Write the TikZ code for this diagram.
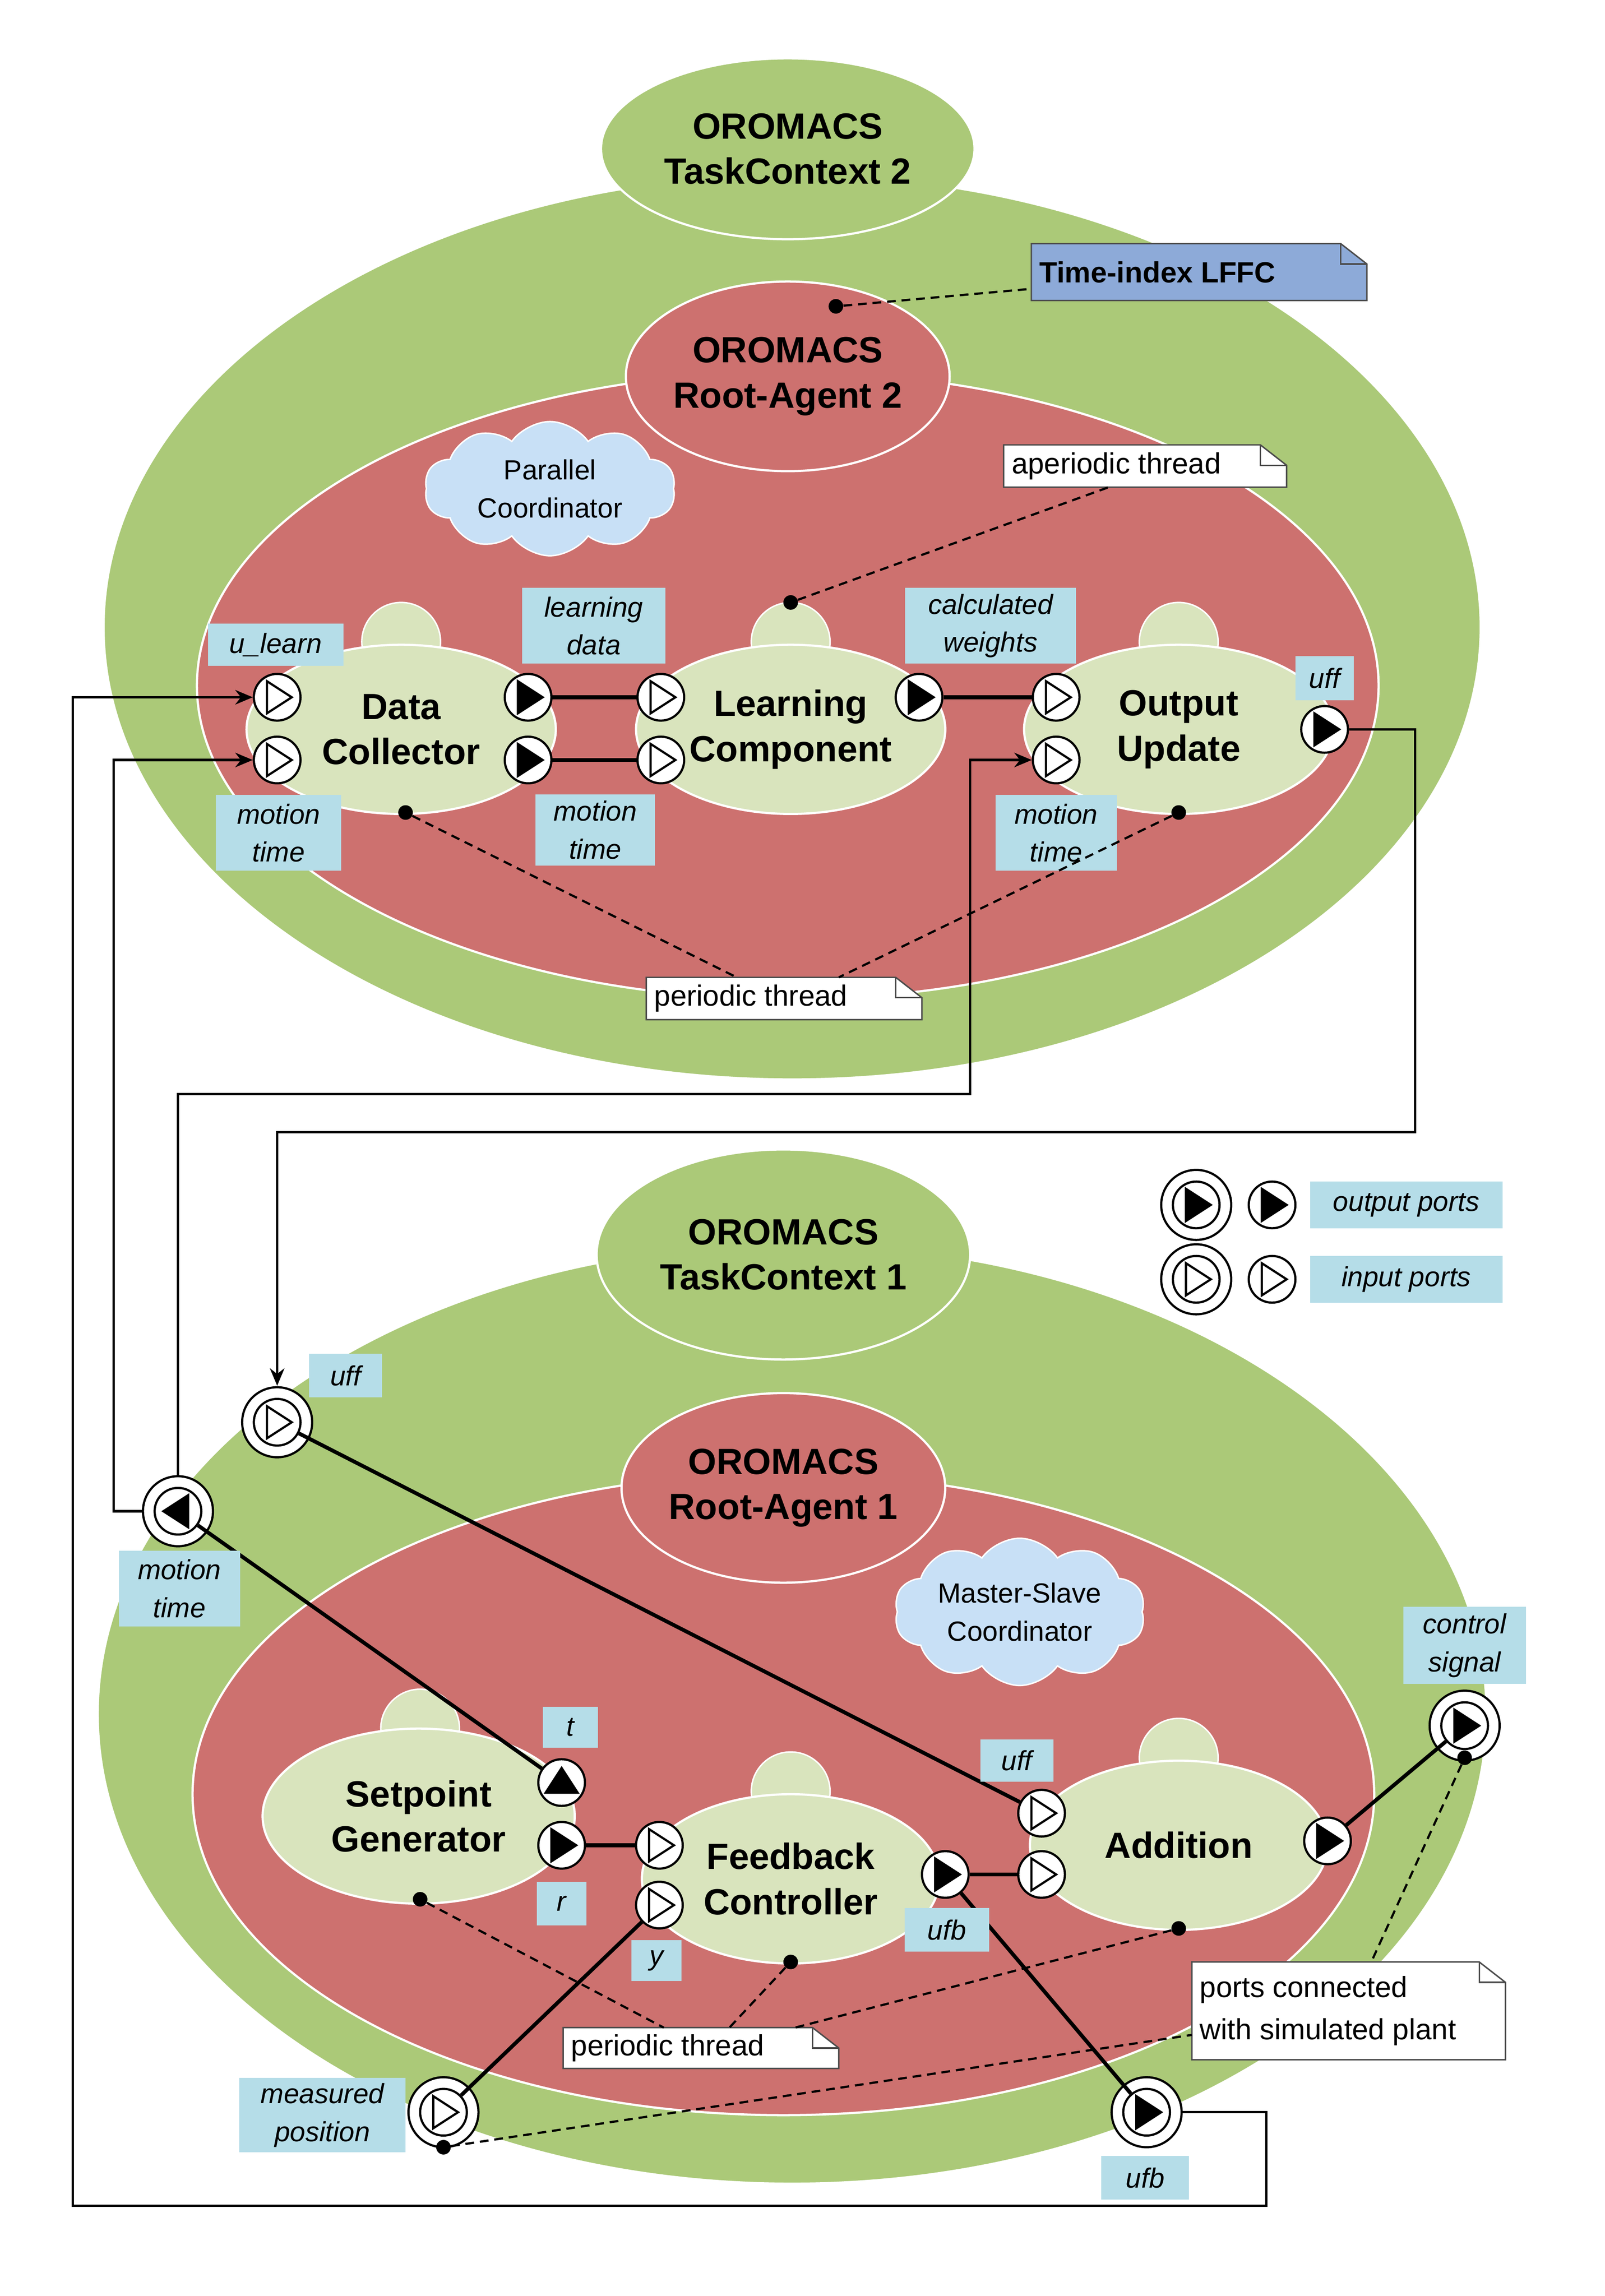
\documentclass[tikz,border=0pt]{standalone}
\usepackage{fontspec}
\setmainfont{Liberation Sans}
\usetikzlibrary{shapes.geometric,shapes.symbols,arrows.meta,calc}
\definecolor{gr}{RGB}{171,201,120}
\definecolor{rd}{RGB}{205,113,111}
\definecolor{lg}{RGB}{217,228,189}
\definecolor{lb}{RGB}{181,221,232}
\definecolor{nb}{RGB}{141,170,216}
\definecolor{cl}{RGB}{200,224,246}
\tikzset{
 ell/.style={ellipse,draw=white,line width=1.5pt,inner sep=0},
 big/.style={font=\fontsize{25}{31}\selectfont\bfseries,align=center},
 port/.style={circle,draw,line width=1.5pt,fill=white,minimum size=32pt,inner sep=0},
 lbl/.style={fill=lb,font=\fontsize{19}{26}\selectfont\itshape,align=center,inner sep=2pt},
 wire/.style={line width=1.6pt},
 thick wire/.style={line width=2.6pt},
 dsh/.style={line width=1.5pt,dash pattern=on 6pt off 4pt},
 dot/.style={circle,fill=black,minimum size=10pt,inner sep=0},
 cloudy/.style={cloud,cloud puffs=10,cloud puff arc=110,aspect=1.9,fill=cl,draw=white,line width=1pt,align=center,font=\fontsize{19}{26}\selectfont,inner sep=-2pt,minimum width=172,minimum height=92}
}
\newcommand\sport[5]{\node[port] (#1) at (#2,#3) {};
 \filldraw[fill=#4,draw=black,line width=1.5pt,rotate around={#5:(#2,#3)}] (#2+10,#3) -- (#2-7,#3-11) -- (#2-7,#3+11) -- cycle;}
\newcommand\dport[5]{\draw[line width=1.5pt,fill=white] (#2,#3) circle (24pt);\sport{#1}{#2}{#3}{#4}{#5}}
\newcommand\mynote[7]{\filldraw[fill=#6,draw=black!70,line width=1pt] (#2,#3) -- (#4-18,#3) -- (#4,#3+14) -- (#4,#5) -- (#2,#5) -- cycle;
 \draw[black!70,line width=1pt] (#4-18,#3) -- (#4-18,#3+14) -- (#4,#3+14);
 \node[font=\fontsize{20}{29}\selectfont,align=left,anchor=west] (#1) at (#2+2,{(#3+#5)/2}) {#7};}
\begin{document}
\begin{tikzpicture}[x=1pt,y=-1pt]
\useasboundingbox (0,0) rectangle (1100,1574);
\fill[white] (0,0) rectangle (1100,1574);
% ---------- TaskContext 2
\node[ell,fill=gr,minimum width=944,minimum height=620] (tc2) at (543,430) {};
\node[ell,fill=gr,minimum width=256,minimum height=124,big] (tc2h) at (540,102) {OROMACS\\TaskContext 2};
\node[ell,fill=rd,minimum width=810,minimum height=430] (ra2) at (540,470) {};
\node[ell,fill=rd,minimum width=200,minimum height=130,big] (ra2h) at (540,258) {OROMACS\\Root-Agent 2};
\node[cloudy] (pc) at (377,335) {Parallel\\Coordinator};
\foreach \n/\x/\t in {dc/275/Data\\Collector,lc/542/Learning\\Component,ou/808/Output\\Update}{
 \node[circle,draw=white,line width=1pt,fill=lg,minimum size=54] (\n c) at (\x,440) {};
 \node[ell,fill=lg,minimum width=212,minimum height=116,big] (\n) at (\x,500) {\t};
}
\sport{dci1}{190}{478}{white}{0}
\sport{dci2}{190}{521}{white}{0}
\sport{dco1}{362}{478}{black}{0}
\sport{dco2}{362}{521}{black}{0}
\sport{lci1}{453}{478}{white}{0}
\sport{lci2}{453}{521}{white}{0}
\sport{lco}{630}{478}{black}{0}
\sport{oui1}{724}{478}{white}{0}
\sport{oui2}{724}{521}{white}{0}
\sport{ouo}{908}{500}{black}{0}
\draw[thick wire] (dco1.east) -- (lci1.west);
\draw[thick wire] (dco2.east) -- (lci2.west);
\draw[thick wire] (lco.east) -- (oui1.west);
\node[lbl,minimum width=93,minimum height=29] (l1) at (189,442) {u\_learn};
\node[lbl,minimum width=86,minimum height=52] (l2) at (191,571) {motion\\time};
\node[lbl,minimum width=98,minimum height=52] (l3) at (407,429) {learning\\data};
\node[lbl,minimum width=82,minimum height=49] (l4) at (408,569) {motion\\time};
\node[lbl,minimum width=117,minimum height=52] (l5) at (679,429) {calculated\\weights};
\node[lbl,minimum width=83,minimum height=52] (l6) at (724,571) {motion\\time};
\node[lbl,minimum width=40,minimum height=30] (l7) at (908,465) {uff};
% notes TC2
\mynote{n1}{707}{167}{937}{206}{nb}{\bfseries Time-index LFFC}
\node[dot] (d1) at (573,210) {};
\draw[dsh] (d1) -- (707,198);
\mynote{n2}{688}{305}{882}{334}{white}{aperiodic thread}
\node[dot] (d2) at (542,413) {};
\draw[dsh] (d2) -- (760,334);
\mynote{n3}{443}{670}{632}{699}{white}{periodic thread}
\node[dot] (d3) at (278,557) {};
\node[dot] (d4) at (808,557) {};
\draw[dsh] (d3) -- (505,670);
\draw[dsh] (d4) -- (575,670);
% ---------- legend
\dport{lg1}{820}{826}{black}{0}
\sport{lg2}{872}{826}{black}{0}
\dport{lg3}{820}{877}{white}{0}
\sport{lg4}{872}{877}{white}{0}
\node[lbl,minimum width=132,minimum height=32] (lo) at (964,826) {output ports};
\node[lbl,minimum width=132,minimum height=32] (li) at (964,877) {input ports};
% ---------- TaskContext 1
\node[ell,fill=gr,minimum width=952,minimum height=644] (tc1) at (543,1175) {};
\node[ell,fill=gr,minimum width=256,minimum height=144,big] (tc1h) at (537,860) {OROMACS\\TaskContext 1};
\node[ell,fill=rd,minimum width=810,minimum height=440] (ra1) at (537,1230) {};
\node[ell,fill=rd,minimum width=200,minimum height=130,big] (ra1h) at (537,1020) {OROMACS\\Root-Agent 1};
\node[cloudy] (ms) at (699,1105) {Master-Slave\\Coordinator};
\node[circle,draw=white,line width=1pt,fill=lg,minimum size=54] (sgc) at (288,1185) {};
\node[ell,fill=lg,minimum width=214,minimum height=120,big] (sg) at (287,1245) {Setpoint\\Generator};
\node[circle,draw=white,line width=1pt,fill=lg,minimum size=54] (fcc) at (542,1228) {};
\node[ell,fill=lg,minimum width=204,minimum height=116,big] (fc) at (542,1288) {Feedback\\Controller};
\node[circle,draw=white,line width=1pt,fill=lg,minimum size=54] (adc) at (808,1205) {};
\node[ell,fill=lg,minimum width=204,minimum height=116,big] (ad) at (808,1265) {Addition};
\sport{sgt}{385}{1222}{black}{90}
\sport{sgr}{385}{1265}{black}{0}
\sport{fci1}{452}{1265}{white}{0}
\sport{fci2}{452}{1306}{white}{0}
\sport{fco}{648}{1285}{black}{0}
\sport{adi1}{714}{1243}{white}{0}
\sport{adi2}{714}{1285}{white}{0}
\sport{ado}{910}{1262}{black}{0}
\dport{tuff}{190}{975}{white}{0}
\dport{tmt}{122}{1036}{black}{180}
\dport{tcs}{1004}{1183}{black}{0}
\dport{tmp}{304}{1448}{white}{0}
\dport{tufb}{786}{1448}{black}{0}
\draw[thick wire] (tuff) -- (adi1);
\draw[thick wire] (tmt) -- (sgt);
\draw[thick wire] (sgr) -- (fci1);
\draw[thick wire] (tmp) -- (fci2);
\draw[thick wire] (fco) -- (adi2);
\draw[thick wire] (fco) -- (tufb);
\draw[thick wire] (ado) -- (tcs);
\node[lbl,minimum width=50,minimum height=30] (m1) at (237,943) {uff};
\node[lbl,minimum width=83,minimum height=52] (m2) at (123,1089) {motion\\time};
\node[lbl,minimum width=38,minimum height=28] (m3) at (391,1184) {t};
\node[lbl,minimum width=34,minimum height=30] (m4) at (385,1305) {r};
\node[lbl,minimum width=34,minimum height=28] (m5) at (450,1344) {y};
\node[lbl,minimum width=58,minimum height=30] (m6) at (649,1323) {ufb};
\node[lbl,minimum width=50,minimum height=29] (m7) at (697,1207) {uff};
\node[lbl,minimum width=84,minimum height=53] (m8) at (1004,1128) {control\\signal};
\node[lbl,minimum width=114,minimum height=51] (m9) at (221,1450) {measured\\position};
\node[lbl,minimum width=60,minimum height=30] (m10) at (785,1493) {ufb};
% notes TC1
\mynote{n4}{386}{1390}{575}{1418}{white}{periodic thread}
\mynote{n5}{817}{1345}{1032}{1412}{white}{ports connected\\with simulated plant}
\node[dot] (e1) at (288,1302) {};
\node[dot] (e2) at (542,1345) {};
\node[dot] (e3) at (808,1322) {};
\node[dot] (e4) at (1004,1205) {};
\node[dot] (e5) at (304,1472) {};
\draw[dsh] (e1) -- (455,1390);
\draw[dsh] (e2) -- (500,1390);
\draw[dsh] (e3) -- (545,1390);
\draw[dsh] (e4) -- (940,1345);
\draw[dsh] (e5) -- (817,1395);
% ---------- long connectors
\coordinate (tuffN) at (190,950);
\coordinate (tmtN) at (122,1012);
\coordinate (tmtW) at (98,1036);
\coordinate (tufbE) at (810,1448);
\draw[wire,-{Stealth[length=12pt,width=10pt]}] (ouo.east) -- (970,500) -- (970,776) -- (190,776) -- (tuffN);
\draw[wire,-{Stealth[length=12pt,width=10pt]}] (tmtN) -- (122,750) -- (665,750) -- (665,521) -- (oui2.west);
\draw[wire,-{Stealth[length=12pt,width=10pt]}] (tmtW) -- (78,1036) -- (78,521) -- (dci2.west);
\draw[wire,-{Stealth[length=12pt,width=10pt]}] (tufbE) -- (868,1448) -- (868,1512) -- (50,1512) -- (50,478) -- (dci1.west);
\end{tikzpicture}
\end{document}
